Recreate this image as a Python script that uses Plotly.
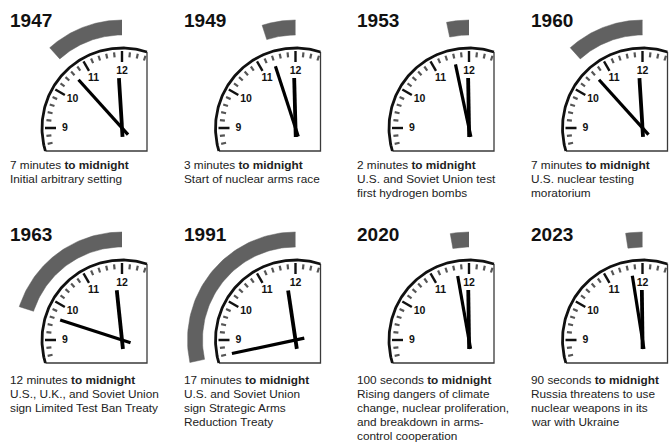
import numpy as np
import plotly.graph_objects as go

# ---------------- data ----------------
years = ["1947", "1949", "1953", "1960", "1963", "1991", "2020", "2023"]
seconds_to_midnight = [420, 180, 120, 420, 720, 1020, 100, 90]
time_labels = ["7 minutes", "3 minutes", "2 minutes", "7 minutes",
               "12 minutes", "17 minutes", "100 seconds", "90 seconds"]
captions = [
    ["Initial arbitrary setting"],
    ["Start of nuclear arms race"],
    ["U.S. and Soviet Union test", "first hydrogen bombs"],
    ["U.S. nuclear testing", "moratorium"],
    ["U.S., U.K., and Soviet Union", "sign Limited Test Ban Treaty"],
    ["U.S. and Soviet Union", "sign Strategic Arms", "Reduction Treaty"],
    ["Rising dangers of climate", "change, nuclear proliferation,",
     "and breakdown in arms-", "control cooperation"],
    ["Russia threatens to use", "nuclear weapons in its", "war with Ukraine"],
]
dial_labels = ["9", "10", "11", "12"]
dial_minutes_before = [15, 10, 5, 0]   # minutes before 12 for each label

# ---------------- layout constants (pixels) ----------------
W, H = 672, 443
COL_X0 = [8, 181.5, 355, 528.5]
ROW_TOP = [0, 221]
ROW_BOTTOM = [221, 443]
ROW_CY = [128, 340]
ROW_TITLE_Y = [20, 234]
ROW_CAPTION_Y = [165, 380]
LINE_GAP = 13.9
CENTER_DX = 114
R_RIM = 80
BORDER_RIGHT = 25
BORDER_BOTTOM = 23
BAND_IN, BAND_OUT = 93, 108
MINUTE_LEN, HOUR_LEN, TAIL = 65, 50, 9
NUM_R = 57
FONT = "Liberation Sans, Arial, sans-serif"

def ang(min_before):
    return np.deg2rad(90 + 6 * np.asarray(min_before, dtype=float))

fig = go.Figure()
layout_axes = {}
annotations = []

for i, yr in enumerate(years):
    r, c = divmod(i, 4)
    cx = COL_X0[c] + CENTER_DX
    cy = ROW_CY[r]
    left = max(COL_X0[c] - 8, 0)
    right = min(COL_X0[c] - 8 + 173.5, W)
    top, bottom = ROW_TOP[r], ROW_BOTTOM[r]
    ax = "" if i == 0 else str(i + 1)
    xa, ya = "x" + ax, "y" + ax
    layout_axes["xaxis" + ax] = dict(domain=[left / W, right / W],
                                     range=[left - cx, right - cx],
                                     visible=False, fixedrange=True)
    layout_axes["yaxis" + ax] = dict(domain=[1 - bottom / H, 1 - top / H],
                                     range=[cy - bottom, cy - top],
                                     visible=False, fixedrange=True)

    mins = seconds_to_midnight[i] / 60.0

    # band (annular sector)
    t = np.linspace(ang(0), ang(mins), 60)
    bx = np.concatenate([BAND_OUT * np.cos(t), BAND_IN * np.cos(t[::-1])])
    by = np.concatenate([BAND_OUT * np.sin(t), BAND_IN * np.sin(t[::-1])])
    fig.add_trace(go.Scatter(x=bx, y=by, fill="toself", fillcolor="#616161",
                             line=dict(color="#616161", width=0.5), mode="lines",
                             xaxis=xa, yaxis=ya, hoverinfo="skip", showlegend=False))

    # border (right and bottom)
    a0 = np.arccos(BORDER_RIGHT / R_RIM)
    a1 = np.pi + np.arcsin(BORDER_BOTTOM / R_RIM)
    fig.add_trace(go.Scatter(
        x=[BORDER_RIGHT, BORDER_RIGHT, R_RIM * np.cos(a1)],
        y=[R_RIM * np.sin(a0), -BORDER_BOTTOM, -BORDER_BOTTOM],
        mode="lines", line=dict(color="#3a3a3a", width=1.3),
        xaxis=xa, yaxis=ya, hoverinfo="skip", showlegend=False))

    # rim arc
    t = np.linspace(a0, a1, 120)
    fig.add_trace(go.Scatter(x=R_RIM * np.cos(t), y=R_RIM * np.sin(t), mode="lines",
                             line=dict(color="#111111", width=2.8),
                             xaxis=xa, yaxis=ya, hoverinfo="skip", showlegend=False))

    # ticks
    minor_x, minor_y, major_x, major_y = [], [], [], []
    for k in range(-3, 18):
        a = ang(k)
        if k % 5 == 0:
            major_x += [66 * np.cos(a), 77 * np.cos(a), None]
            major_y += [66 * np.sin(a), 77 * np.sin(a), None]
        else:
            minor_x += [71 * np.cos(a), 76 * np.cos(a), None]
            minor_y += [71 * np.sin(a), 76 * np.sin(a), None]
    fig.add_trace(go.Scatter(x=minor_x, y=minor_y, mode="lines",
                             line=dict(color="#555555", width=2.2),
                             xaxis=xa, yaxis=ya, hoverinfo="skip", showlegend=False))
    fig.add_trace(go.Scatter(x=major_x, y=major_y, mode="lines",
                             line=dict(color="#111111", width=2.4),
                             xaxis=xa, yaxis=ya, hoverinfo="skip", showlegend=False))

    # dial numbers
    na = ang(dial_minutes_before)
    fig.add_trace(go.Scatter(x=NUM_R * np.cos(na), y=NUM_R * np.sin(na), mode="text",
                             text=dial_labels,
                             textfont=dict(family=FONT, size=10.5, color="#111111", weight="bold"),
                             xaxis=xa, yaxis=ya, hoverinfo="skip", showlegend=False))

    # hands
    am = ang(mins)
    ah = np.deg2rad(90 + 0.5 * mins)
    fig.add_trace(go.Scatter(x=[-TAIL * np.cos(am), MINUTE_LEN * np.cos(am)],
                             y=[-TAIL * np.sin(am), MINUTE_LEN * np.sin(am)],
                             mode="lines", line=dict(color="#000000", width=3.2),
                             xaxis=xa, yaxis=ya, hoverinfo="skip", showlegend=False))
    fig.add_trace(go.Scatter(x=[-TAIL * np.cos(ah), HOUR_LEN * np.cos(ah)],
                             y=[-TAIL * np.sin(ah), HOUR_LEN * np.sin(ah)],
                             mode="lines", line=dict(color="#000000", width=3.8),
                             xaxis=xa, yaxis=ya, hoverinfo="skip", showlegend=False))

    # year title
    annotations.append(dict(x=COL_X0[c] - cx, y=cy - ROW_TITLE_Y[r], xref=xa, yref=ya,
                            text="<b>" + yr + "</b>", showarrow=False,
                            xanchor="left", yanchor="middle",
                            font=dict(family=FONT, size=19, color="#111111")))
    # caption lines
    lines = [time_labels[i] + " <b>to midnight</b>"] + captions[i]
    for j, ln in enumerate(lines):
        annotations.append(dict(x=COL_X0[c] - cx, y=cy - (ROW_CAPTION_Y[r] + j * LINE_GAP),
                                xref=xa, yref=ya, text=ln, showarrow=False, align="left",
                                xanchor="left", yanchor="middle",
                                font=dict(family=FONT, size=11.8, color="#222222")))

fig.update_layout(width=W, height=H, margin=dict(l=0, r=0, t=0, b=0),
                  paper_bgcolor="white", plot_bgcolor="white", hovermode=False,
                  annotations=annotations, showlegend=False, **layout_axes)

fig.write_html("out.html", config={"displayModeBar": False, "staticPlot": True},
               post_script="document.body.style.margin='0';document.body.style.padding='0';")
